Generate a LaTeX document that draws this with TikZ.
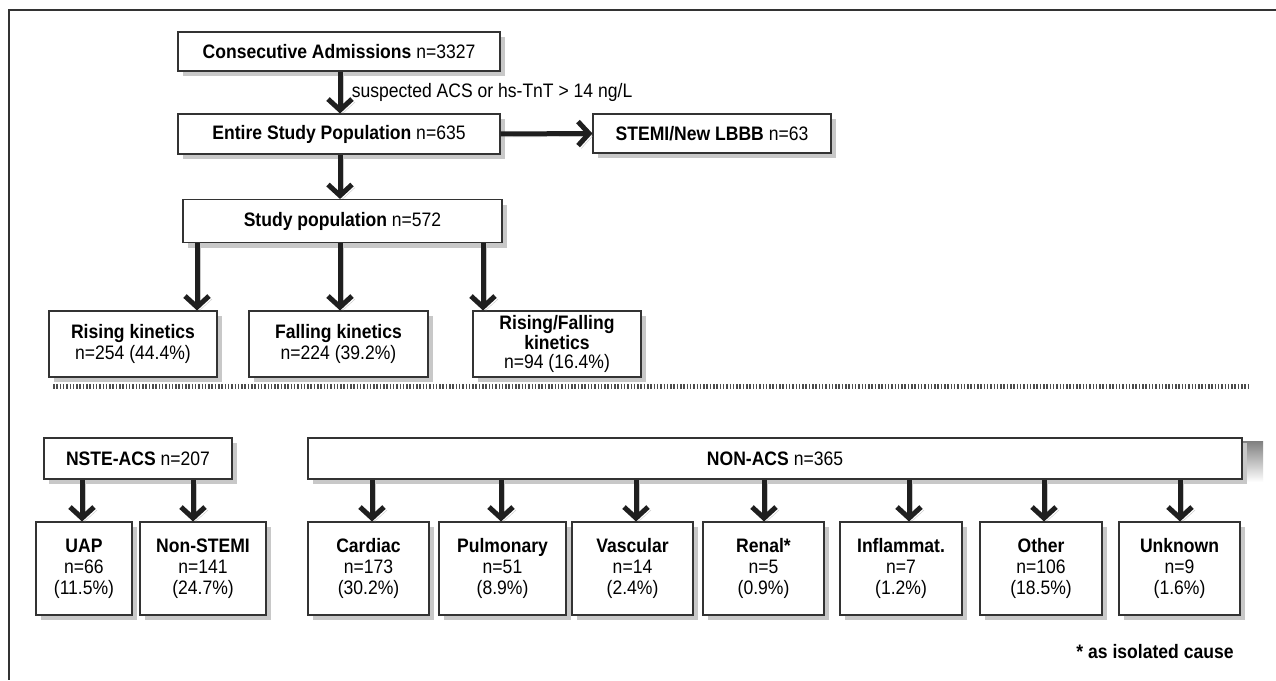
\documentclass[tikz,border=0pt]{standalone}
\usepackage{fontspec}
\setmainfont{Liberation Sans}[FakeStretch=0.9]
\usetikzlibrary{arrows.meta,shadows}
\definecolor{edge}{HTML}{333333}
\definecolor{shade}{HTML}{C8C8C8}
\begin{document}
\begin{tikzpicture}[x=1pt,y=-1pt,
  font=\fontsize{19.5}{21}\selectfont,
  box/.style={draw=edge, line width=1.1pt, fill=white, align=center, inner sep=0pt,
    drop shadow={shadow xshift=5pt, shadow yshift=-5pt, fill=shade, opacity=1}},
  flow/.style={line width=5pt, draw=black!88,
    -{Straight Barb[length=11pt,width=24pt,line width=5pt]},
    preaction={draw=shade, transform canvas={xshift=3pt,yshift=-3pt}}},
  dotline/.style={line width=5pt, draw=black!70, dash pattern=on 1.5pt off 1.8pt},
]
\useasboundingbox (0,0) rectangle (1276,680);
\fill[white] (0,0) rectangle (1276,680);
\draw[edge, line width=1.3pt] (1276,10) -- (9,10) -- (9,680);

% top part
\node[box, minimum width=322pt, minimum height=39pt] (cons) at (339,51.5) {\textbf{Consecutive Admissions} n=3327};
\node[box, minimum width=322pt, minimum height=40pt] (entire) at (339,134) {\textbf{Entire Study Population} n=635};
\node[box, minimum width=238pt, minimum height=39pt] (stemi) at (712,133.5) {\textbf{STEMI/New LBBB} n=63};
\node[box, minimum width=319pt, minimum height=43pt] (study) at (342.5,221) {\textbf{Study population} n=572};
\node[box, minimum width=168pt, minimum height=66pt] (rise) at (133,344) {\textbf{Rising kinetics}\\n=254 (44.4\%)};
\node[box, minimum width=179pt, minimum height=66pt] (fall) at (338.5,344) {\textbf{Falling kinetics}\\n=224 (39.2\%)};
\node[box, minimum width=168pt, minimum height=66pt, font=\fontsize{19.5}{19.5}\selectfont] (risefall) at (557,344) {\textbf{Rising/Falling}\\\textbf{kinetics}\\n=94 (16.4\%)};

\draw[flow] (cons.south -| 340,0) -- (entire.north -| 340,0)
  node[midway, right=6pt] (crit) {suspected ACS or hs-TnT > 14 ng/L};
\draw[flow] (entire.east) -- (stemi.west);
\draw[flow] (entire.south -| 340,0) -- (study.north -| 340,0);
\draw[flow] (study.south -| 197,0) -- (rise.north -| 197,0);
\draw[flow] (study.south -| 340,0) -- (fall.north -| 340,0);
\draw[flow] (study.south -| 483,0) -- (risefall.north -| 483,0);

% separator
\draw[dotline] (53,386) -- (1249,386);

% bottom part
\fill[shade] (1242,441) rectangle (1263,482);
\node[box, minimum width=188pt, minimum height=41pt] (nste) at (138,458.5) {\textbf{NSTE-ACS} n=207};
\node[box, minimum width=934pt, minimum height=41pt] (nonacs) at (775,458.5) {\textbf{NON-ACS} n=365};

\node[box, minimum width=96pt, minimum height=93pt] (uap) at (84,568.5) {\textbf{UAP}\\n=66\\(11.5\%)};
\node[box, minimum width=126pt, minimum height=93pt] (nstemi) at (203,568.5) {\textbf{Non-STEMI}\\n=141\\(24.7\%)};
\node[box, minimum width=121pt, minimum height=93pt] (card) at (368.5,568.5) {\textbf{Cardiac}\\n=173\\(30.2\%)};
\node[box, minimum width=127pt, minimum height=93pt] (pulm) at (502.5,568.5) {\textbf{Pulmonary}\\n=51\\(8.9\%)};
\node[box, minimum width=121pt, minimum height=93pt] (vasc) at (632.5,568.5) {\textbf{Vascular}\\n=14\\(2.4\%)};
\node[box, minimum width=121pt, minimum height=93pt] (renal) at (763.5,568.5) {\textbf{Renal*}\\n=5\\(0.9\%)};
\node[box, minimum width=122pt, minimum height=93pt] (infl) at (901,568.5) {\textbf{Inflammat.}\\n=7\\(1.2\%)};
\node[box, minimum width=122pt, minimum height=93pt] (other) at (1041,568.5) {\textbf{Other}\\n=106\\(18.5\%)};
\node[box, minimum width=121pt, minimum height=93pt] (unk) at (1179.5,568.5) {\textbf{Unknown}\\n=9\\(1.6\%)};

\draw[flow] (nste.south -| 82,0) -- (uap.north -| 82,0);
\draw[flow] (nste.south -| 193,0) -- (nstemi.north -| 193,0);
\draw[flow] (nonacs.south -| 372,0) -- (card.north -| 372,0);
\draw[flow] (nonacs.south -| 501,0) -- (pulm.north -| 501,0);
\draw[flow] (nonacs.south -| 636,0) -- (vasc.north -| 636,0);
\draw[flow] (nonacs.south -| 764,0) -- (renal.north -| 764,0);
\draw[flow] (nonacs.south -| 909,0) -- (infl.north -| 909,0);
\draw[flow] (nonacs.south -| 1044,0) -- (other.north -| 1044,0);
\draw[flow] (nonacs.south -| 1180,0) -- (unk.north -| 1180,0);

\node[font=\bfseries\fontsize{19.5}{21}\selectfont] (note) at (1155,652) {* as isolated cause};
\end{tikzpicture}
\end{document}
